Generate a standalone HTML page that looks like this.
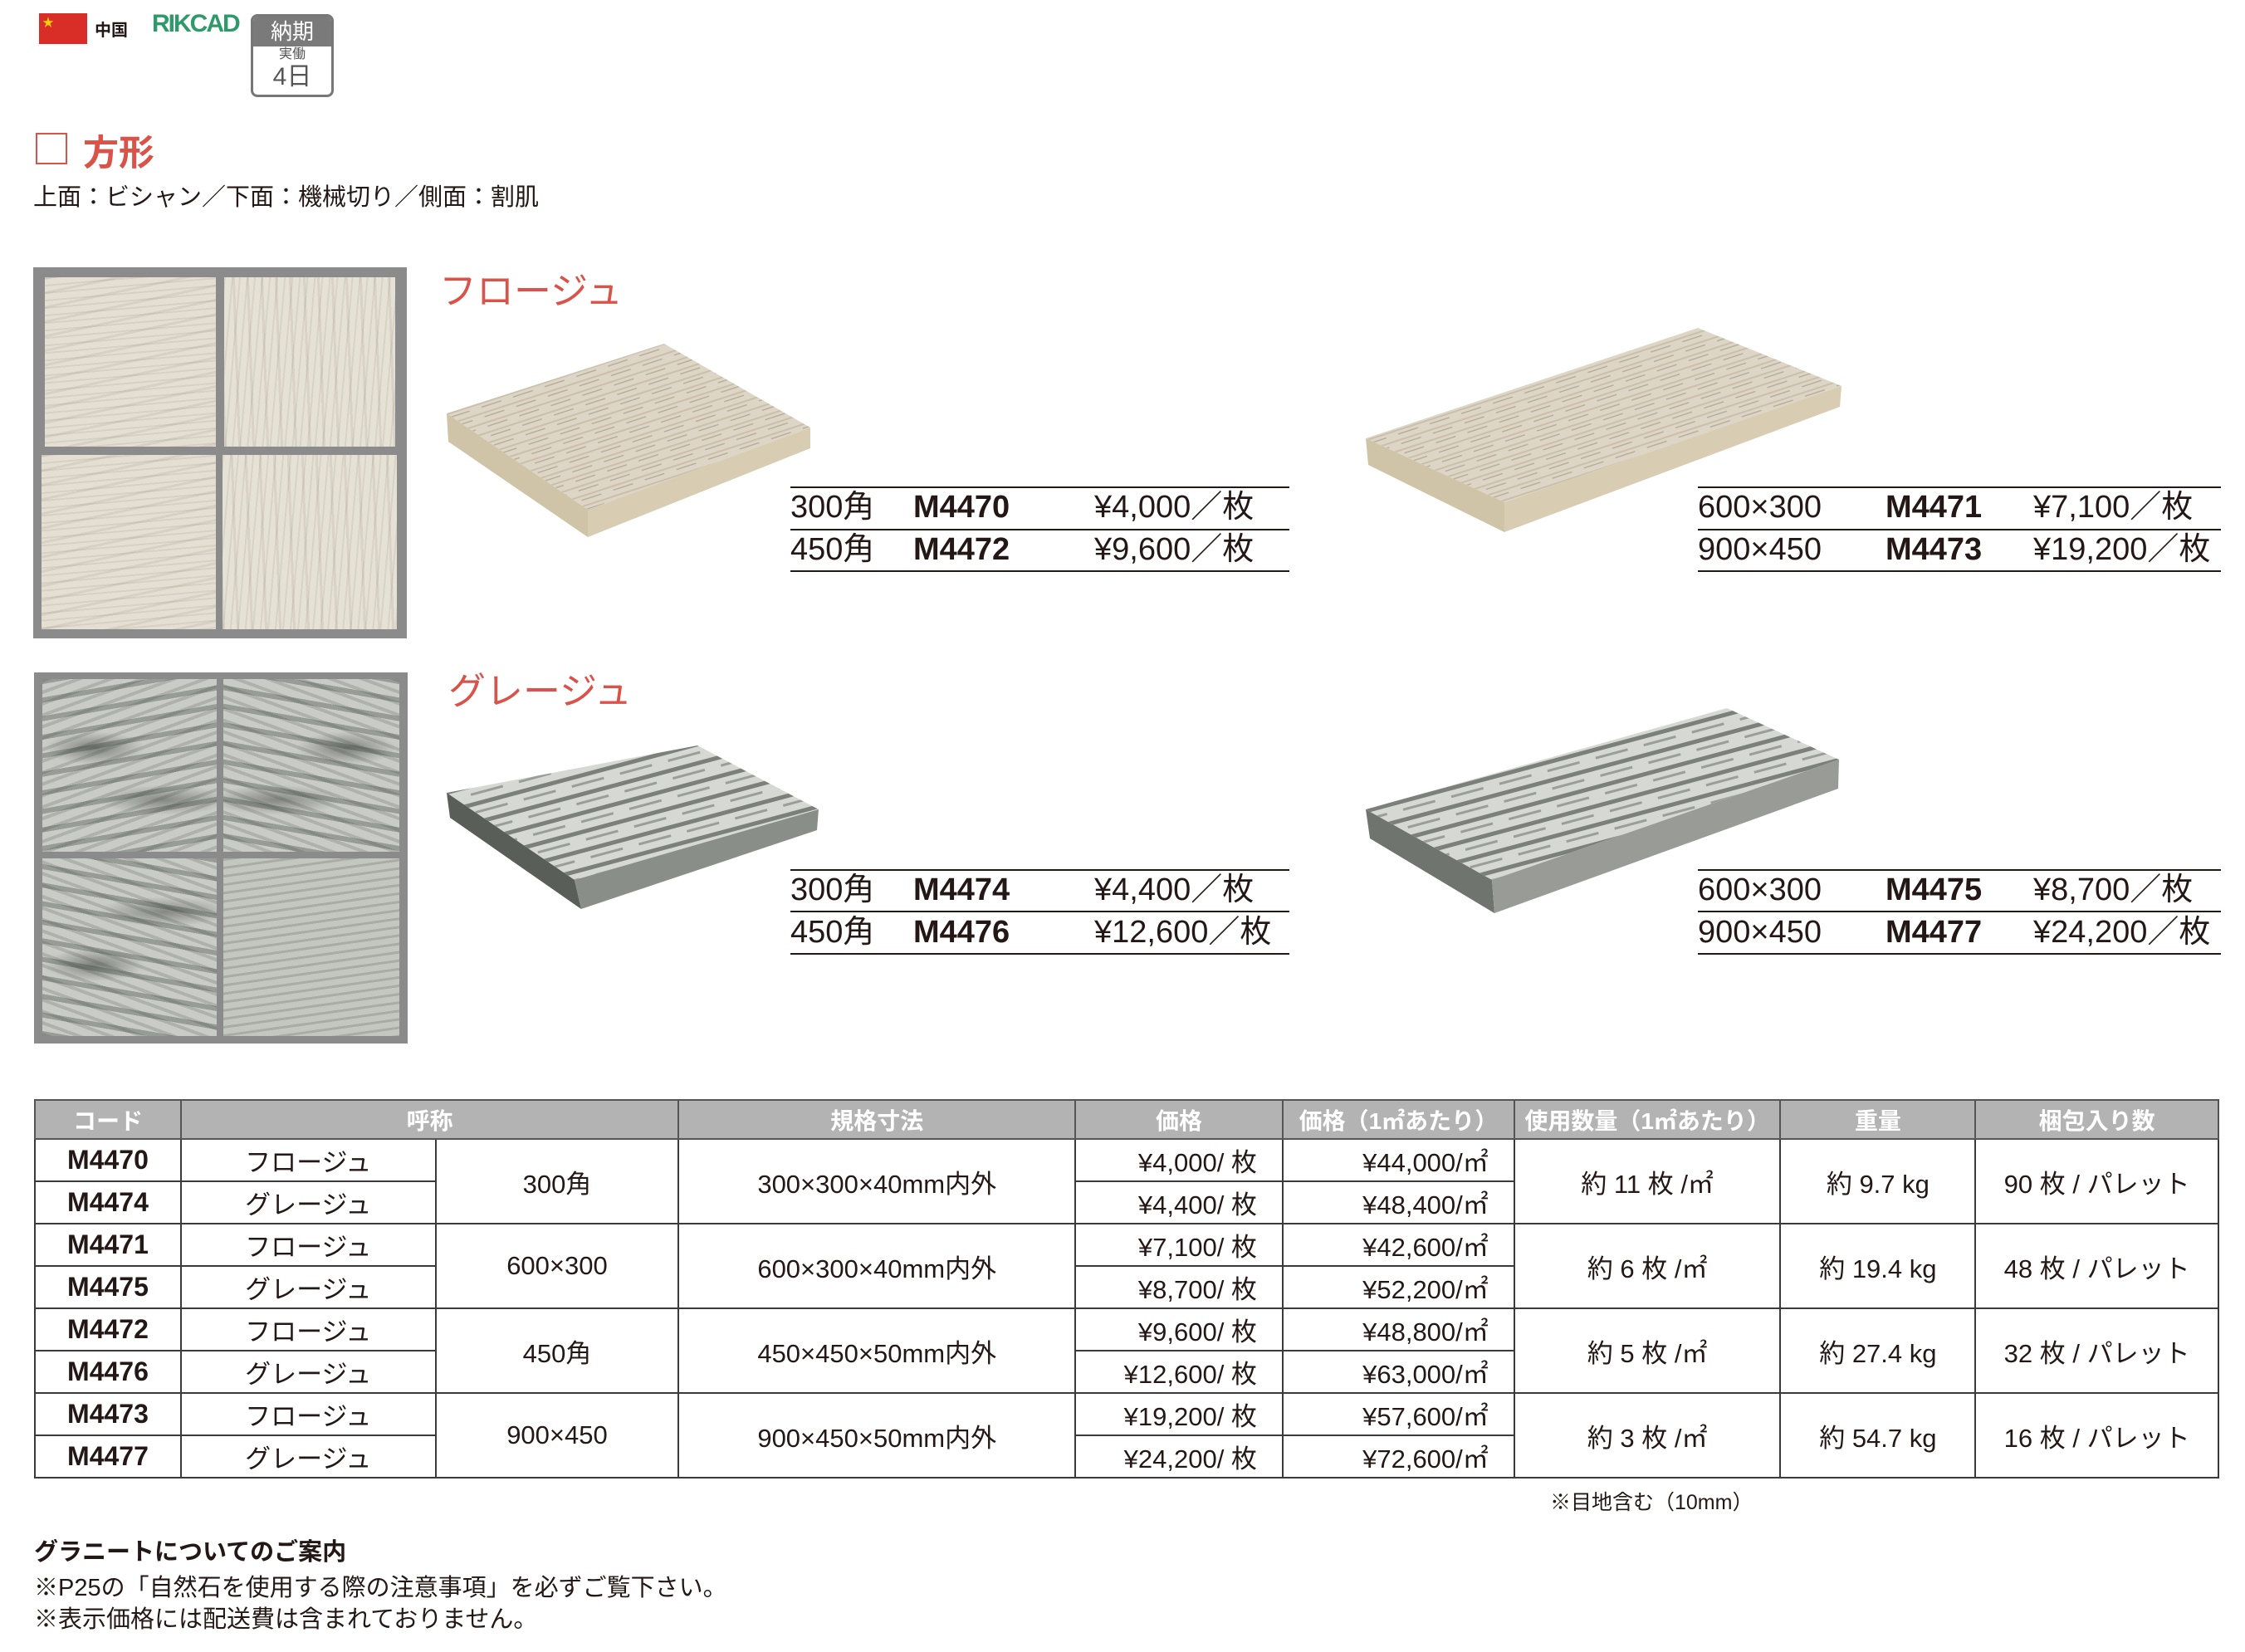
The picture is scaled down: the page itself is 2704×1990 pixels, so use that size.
<!DOCTYPE html>
<html><head><meta charset="utf-8"><style>
*{margin:0;padding:0;box-sizing:border-box}
body{width:2704px;height:1990px;background:#fff;position:relative;overflow:hidden;font-family:"Liberation Sans","Noto Sans CJK JP",sans-serif;color:#231815}
.a{position:absolute;white-space:nowrap}
.pl{position:absolute;height:2px;background:#231815}
.pt{position:absolute;font-size:38px;line-height:44px}
.pt b{font-weight:bold}
table{position:absolute;left:41px;top:1324px;width:2632px;border-collapse:collapse;font-size:31px}
td,th{border:2px solid #3a3a3a;text-align:center;height:51px;padding:0}
th{background:#b3b3b3;color:#fff;font-weight:bold;height:47px;font-size:28px;border-color:#555}
td.c{font-weight:bold;font-size:32px}
td.r{text-align:right;padding-right:30px}
.tex1{background:
repeating-linear-gradient(175deg,rgba(120,110,90,.12) 0 2px,transparent 2px 9px),
repeating-linear-gradient(168deg,rgba(90,85,70,.1) 0 3px,transparent 3px 17px),#e4dfd2}
.tex2{background:
repeating-linear-gradient(95deg,rgba(120,110,90,.12) 0 2px,transparent 2px 9px),
repeating-linear-gradient(88deg,rgba(90,85,70,.1) 0 3px,transparent 3px 17px),#e6e1d5}
.tex3{background:
radial-gradient(ellipse 60px 20px at 30% 40%,rgba(50,55,48,.5),transparent),
radial-gradient(ellipse 80px 18px at 70% 70%,rgba(50,55,48,.45),transparent),
repeating-linear-gradient(170deg,rgba(40,45,40,.3) 0 6px,transparent 6px 22px),
repeating-linear-gradient(160deg,rgba(70,75,70,.2) 0 4px,transparent 4px 13px),#c9ccc6}
</style></head><body>
<div class="a" style="left:47px;top:16px;width:58px;height:37px;background:#d92d27"></div>
<div class="a" style="left:51px;top:17px;color:#f5d000;font-size:14px">★</div>
<div class="a" style="left:114px;top:20px;font-size:20px;font-weight:bold">中国</div>
<div class="a" style="left:183px;top:12px;font-size:30px;font-weight:bold;color:#2e9a6a;letter-spacing:-2px">RIKCAD</div>
<div class="a" style="left:302px;top:17px;width:100px;height:100px;border:3px solid #777;border-radius:8px;overflow:hidden">
 <div style="background:#7a7a7a;color:#fff;height:36px;font-size:26px;text-align:center;line-height:36px">納期</div>
 <div style="text-align:center;font-size:16px;color:#555;line-height:20px">実働</div>
 <div style="text-align:center;font-size:30px;color:#555;line-height:34px">4日</div>
</div>
<div class="a" style="left:43px;top:160px;width:38px;height:38px;border:2px solid #d9534a"></div>
<div class="a" style="left:100px;top:150px;font-size:43px;font-weight:bold;color:#d9534a">方形</div>
<div class="a" style="left:40px;top:214px;font-size:29px">上面：ビシャン／下面：機械切り／側面：割肌</div>

<div class="a" style="left:40px;top:322px;width:450px;height:447px;background:#8b8b8b">
 <div class="a tex1" style="left:14px;top:12px;width:206px;height:204px"></div>
 <div class="a tex2" style="left:230px;top:12px;width:206px;height:204px"></div>
 <div class="a tex1" style="left:10px;top:226px;width:210px;height:210px"></div>
 <div class="a tex2" style="left:228px;top:226px;width:210px;height:210px"></div>
</div>
<div class="a" style="left:41px;top:810px;width:450px;height:447px;background:#8b8b8b">
 <div class="a tex3" style="left:10px;top:8px;width:210px;height:208px"></div>
 <div class="a tex3" style="left:228px;top:8px;width:212px;height:208px;transform:scaleX(-1)"></div>
 <div class="a tex3" style="left:10px;top:224px;width:210px;height:214px;transform:scaleY(-1)"></div>
 <div class="a" style="left:228px;top:224px;width:212px;height:214px;background:repeating-linear-gradient(172deg,rgba(90,95,85,.25) 0 3px,transparent 3px 10px),#c4c6c0"></div>
</div>

<div class="a" style="left:529px;top:314px;font-size:45px;color:#d9534a">フロージュ</div>
<div class="a" style="left:540px;top:796px;font-size:45px;color:#d9534a">グレージュ</div>

<svg class="a" style="left:0;top:0" width="2704" height="1300">
<defs>
<pattern id="p1" width="40" height="12" patternUnits="userSpaceOnUse" patternTransform="rotate(-18)"><rect width="40" height="12" fill="#ddd6c6"/><rect y="4" width="40" height="2" fill="#c9bfab"/><rect y="9" width="25" height="1.5" fill="#b8ae9c"/></pattern>
<pattern id="p2" width="60" height="22" patternUnits="userSpaceOnUse" patternTransform="rotate(-15)"><rect width="60" height="22" fill="#d6d8d3"/><rect y="3" width="60" height="5" fill="#7b807a"/><rect y="14" width="40" height="3" fill="#9a9e98"/></pattern>
</defs>
<polygon points="538,498 800,414 976,515 708,614" fill="url(#p1)"/>
<polygon points="538,498 708,614 708,647 540,532" fill="#cfc3a8"/>
<polygon points="708,614 976,515 976,540 708,647" fill="#d8ccb2"/>
<polygon points="1645,528 2045,395 2218,465 1812,605" fill="url(#p1)"/>
<polygon points="1645,528 1812,605 1812,641 1648,560" fill="#cfc3a8"/>
<polygon points="1812,605 2218,465 2216,490 1812,641" fill="#d8ccb2"/>
<polygon points="538,955 840,898 986,975 692,1060" fill="url(#p2)"/>
<polygon points="538,955 692,1060 700,1095 542,985" fill="#5a5e58"/>
<polygon points="692,1060 986,975 984,1000 700,1095" fill="#8a8e88"/>
<polygon points="1645,975 2080,853 2215,915 1797,1060" fill="url(#p2)"/>
<polygon points="1645,975 1797,1060 1800,1100 1650,1010" fill="#70746e"/>
<polygon points="1797,1060 2215,915 2214,950 1800,1100" fill="#989b96"/>
</svg>

<div class="pl" style="left:952px;top:586px;width:601px"></div>
<div class="pl" style="left:952px;top:637px;width:601px"></div>
<div class="pl" style="left:952px;top:687px;width:601px"></div>
<div class="pt" style="left:952px;top:589px">300角</div><div class="pt" style="left:1100px;top:589px"><b>M4470</b></div><div class="pt" style="left:1318px;top:589px">¥4,000／枚</div>
<div class="pt" style="left:952px;top:640px">450角</div><div class="pt" style="left:1100px;top:640px"><b>M4472</b></div><div class="pt" style="left:1318px;top:640px">¥9,600／枚</div>

<div class="pl" style="left:2045px;top:586px;width:630px"></div>
<div class="pl" style="left:2045px;top:637px;width:630px"></div>
<div class="pl" style="left:2045px;top:687px;width:630px"></div>
<div class="pt" style="left:2045px;top:589px">600×300</div><div class="pt" style="left:2271px;top:589px"><b>M4471</b></div><div class="pt" style="left:2449px;top:589px">¥7,100／枚</div>
<div class="pt" style="left:2045px;top:640px">900×450</div><div class="pt" style="left:2271px;top:640px"><b>M4473</b></div><div class="pt" style="left:2449px;top:640px">¥19,200／枚</div>

<div class="pl" style="left:952px;top:1047px;width:601px"></div>
<div class="pl" style="left:952px;top:1097px;width:601px"></div>
<div class="pl" style="left:952px;top:1148px;width:601px"></div>
<div class="pt" style="left:952px;top:1050px">300角</div><div class="pt" style="left:1100px;top:1050px"><b>M4474</b></div><div class="pt" style="left:1318px;top:1050px">¥4,400／枚</div>
<div class="pt" style="left:952px;top:1101px">450角</div><div class="pt" style="left:1100px;top:1101px"><b>M4476</b></div><div class="pt" style="left:1318px;top:1101px">¥12,600／枚</div>

<div class="pl" style="left:2045px;top:1047px;width:630px"></div>
<div class="pl" style="left:2045px;top:1097px;width:630px"></div>
<div class="pl" style="left:2045px;top:1148px;width:630px"></div>
<div class="pt" style="left:2045px;top:1050px">600×300</div><div class="pt" style="left:2271px;top:1050px"><b>M4475</b></div><div class="pt" style="left:2449px;top:1050px">¥8,700／枚</div>
<div class="pt" style="left:2045px;top:1101px">900×450</div><div class="pt" style="left:2271px;top:1101px"><b>M4477</b></div><div class="pt" style="left:2449px;top:1101px">¥24,200／枚</div>

<table>
<colgroup><col style="width:176px"><col style="width:307px"><col style="width:293px"><col style="width:478px"><col style="width:250px"><col style="width:279px"><col style="width:321px"><col style="width:235px"><col style="width:293px"></colgroup>
<tr><th>コード</th><th colspan="2">呼称</th><th>規格寸法</th><th>価格</th><th>価格（1㎡あたり）</th><th>使用数量（1㎡あたり）</th><th>重量</th><th>梱包入り数</th></tr>
<tr><td class="c">M4470</td><td>フロージュ</td><td rowspan="2">300角</td><td rowspan="2">300×300×40mm内外</td><td class="r">¥4,000/ 枚</td><td class="r">¥44,000/㎡</td><td rowspan="2">約 11 枚 /㎡</td><td rowspan="2">約 9.7 kg</td><td rowspan="2">90 枚 / パレット</td></tr>
<tr><td class="c">M4474</td><td>グレージュ</td><td class="r">¥4,400/ 枚</td><td class="r">¥48,400/㎡</td></tr>
<tr><td class="c">M4471</td><td>フロージュ</td><td rowspan="2">600×300</td><td rowspan="2">600×300×40mm内外</td><td class="r">¥7,100/ 枚</td><td class="r">¥42,600/㎡</td><td rowspan="2">約 6 枚 /㎡</td><td rowspan="2">約 19.4 kg</td><td rowspan="2">48 枚 / パレット</td></tr>
<tr><td class="c">M4475</td><td>グレージュ</td><td class="r">¥8,700/ 枚</td><td class="r">¥52,200/㎡</td></tr>
<tr><td class="c">M4472</td><td>フロージュ</td><td rowspan="2">450角</td><td rowspan="2">450×450×50mm内外</td><td class="r">¥9,600/ 枚</td><td class="r">¥48,800/㎡</td><td rowspan="2">約 5 枚 /㎡</td><td rowspan="2">約 27.4 kg</td><td rowspan="2">32 枚 / パレット</td></tr>
<tr><td class="c">M4476</td><td>グレージュ</td><td class="r">¥12,600/ 枚</td><td class="r">¥63,000/㎡</td></tr>
<tr><td class="c">M4473</td><td>フロージュ</td><td rowspan="2">900×450</td><td rowspan="2">900×450×50mm内外</td><td class="r">¥19,200/ 枚</td><td class="r">¥57,600/㎡</td><td rowspan="2">約 3 枚 /㎡</td><td rowspan="2">約 54.7 kg</td><td rowspan="2">16 枚 / パレット</td></tr>
<tr><td class="c">M4477</td><td>グレージュ</td><td class="r">¥24,200/ 枚</td><td class="r">¥72,600/㎡</td></tr>
</table>
<div class="a" style="left:1867px;top:1790px;font-size:25px">※目地含む（10mm）</div>
<div class="a" style="left:41px;top:1846px;font-size:29px;font-weight:bold">グラニートについてのご案内</div>
<div class="a" style="left:41px;top:1889px;font-size:29px">※P25の「自然石を使用する際の注意事項」を必ずご覧下さい。</div>
<div class="a" style="left:41px;top:1927px;font-size:29px">※表示価格には配送費は含まれておりません。</div>
</body></html>
